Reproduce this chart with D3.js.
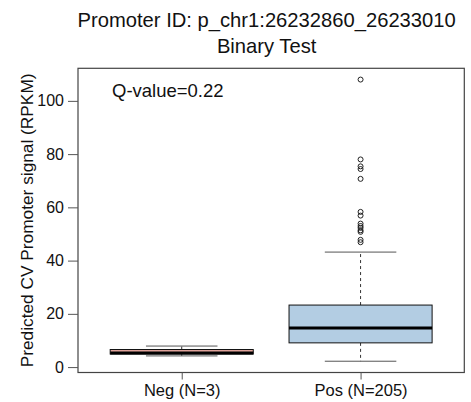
<!DOCTYPE html>
<html>
<head>
<meta charset="utf-8">
<script src="https://cdn.jsdelivr.net/npm/d3@7/dist/d3.min.js"></script>
<style>
  html, body { margin: 0; padding: 0; background: #fff; }
  svg { display: block; font-family: "Liberation Sans", Arial, sans-serif; }
</style>
</head>
<body>
<svg id="chart" width="471" height="402"></svg>
<script>
// ---- data ----
const categories = ["Neg (N=3)", "Pos (N=205)"];
const whiskerLow  = [4.2, 2.2];
const q1          = [4.9, 9.1];
const medians     = [5.3, 14.7];
const q3          = [6.6, 23.3];
const whiskerHigh = [7.9, 43.2];
const negOutliers = [];
const posOutliers = [108.0, 78.0, 75.4, 74.4, 70.7, 58.3, 56.9, 53.9, 53.0, 52.3, 51.4, 50.8, 47.8, 46.9];
const yTicks = [0, 20, 40, 60, 80, 100];
const fills = ["#E3A59D", "#B3CDE3"];
const titleLines = ["Promoter ID: p_chr1:26232860_26233010", "Binary Test"];
const yLabel = "Predicted CV Promoter signal (RPKM)";
const qText = "Q-value=0.22";

// ---- layout ----
const svg = d3.select("#chart");
const L = 78, R = 464.3, T = 68.3, B = 372.5;
const outliers = [negOutliers, posOutliers];

const allVals = [...whiskerLow, ...whiskerHigh, ...negOutliers, ...posOutliers];
const lo = d3.min(allVals), hi = d3.max(allVals);
const pad = (hi - lo) * 0.04;
const y = d3.scaleLinear().domain([lo - pad, hi + pad]).range([B, T]);
const x = d3.scaleLinear().domain([0.42, 2.58]).range([L, R]);
const boxW = x(1.4) - x(1.0);   // half width of box (0.4 units)
const capW = boxW / 2;

// title
svg.append("g").selectAll("text").data(titleLines).join("text")
  .attr("x", (L + R) / 2 - 4.5)
  .attr("y", (d, i) => 26.7 + i * 26.7)
  .attr("text-anchor", "middle")
  .attr("font-size", 20.2)
  .attr("fill", "#111")
  .text(d => d);

// boxes
const g = svg.append("g");
categories.forEach((c, i) => {
  const cx = x(i + 1);
  // whiskers (dashed)
  g.append("line").attr("x1", cx).attr("x2", cx)
    .attr("y1", y(q3[i])).attr("y2", y(whiskerHigh[i]))
    .attr("stroke", "#333").attr("stroke-dasharray", "3,3");
  g.append("line").attr("x1", cx).attr("x2", cx)
    .attr("y1", y(q1[i])).attr("y2", y(whiskerLow[i]))
    .attr("stroke", "#333").attr("stroke-dasharray", "3,3");
  // caps
  [whiskerLow[i], whiskerHigh[i]].forEach(v => {
    g.append("line").attr("x1", cx - capW).attr("x2", cx + capW)
      .attr("y1", y(v)).attr("y2", y(v))
      .attr("stroke", "#555").attr("stroke-width", 1);
  });
  // box
  g.append("rect")
    .attr("x", cx - boxW).attr("width", 2 * boxW)
    .attr("y", y(q3[i])).attr("height", y(q1[i]) - y(q3[i]))
    .attr("fill", fills[i]).attr("stroke", "#111").attr("stroke-width", 1);
  // median
  g.append("line").attr("x1", cx - boxW).attr("x2", cx + boxW)
    .attr("y1", y(medians[i])).attr("y2", y(medians[i]))
    .attr("stroke", "#000").attr("stroke-width", 3);
  // outliers
  g.selectAll(null).data(outliers[i]).join("circle")
    .attr("cx", cx).attr("cy", d => y(d)).attr("r", 2.5)
    .attr("fill", "none").attr("stroke", "#222").attr("stroke-width", 1);
});

// frame
svg.append("rect").attr("x", L).attr("y", T).attr("width", R - L).attr("height", B - T)
  .attr("fill", "none").attr("stroke", "#444").attr("stroke-width", 1.2);

// y axis
const yAxis = d3.axisLeft(y).tickValues(yTicks).tickSize(10).tickPadding(4).tickFormat(d3.format("d"));
const ya = svg.append("g").attr("transform", `translate(${L},0)`).call(yAxis);
ya.select(".domain").remove();
ya.selectAll(".tick line").attr("stroke", "#555");
ya.selectAll(".tick text").attr("font-size", 16).attr("fill", "#111").attr("font-family", "Liberation Sans, Arial, sans-serif");

// x axis
const xAxis = d3.axisBottom(x).tickValues([1, 2]).tickSize(7).tickPadding(5).tickFormat(d => categories[d - 1]);
const xa = svg.append("g").attr("transform", `translate(0,${B})`).call(xAxis);
xa.select(".domain").remove();
xa.selectAll(".tick line").attr("stroke", "#555");
xa.selectAll(".tick text").attr("font-size", 16.5).attr("fill", "#111").attr("font-family", "Liberation Sans, Arial, sans-serif");

// y label
svg.append("text")
  .attr("transform", `translate(33,${(T + B) / 2}) rotate(-90)`)
  .attr("text-anchor", "middle")
  .attr("font-size", 17.3)
  .attr("fill", "#111")
  .text(yLabel);

// q-value
svg.append("text").attr("x", 112).attr("y", 96.7)
  .attr("font-size", 18.5).attr("fill", "#111").text(qText);
</script>
</body>
</html>
